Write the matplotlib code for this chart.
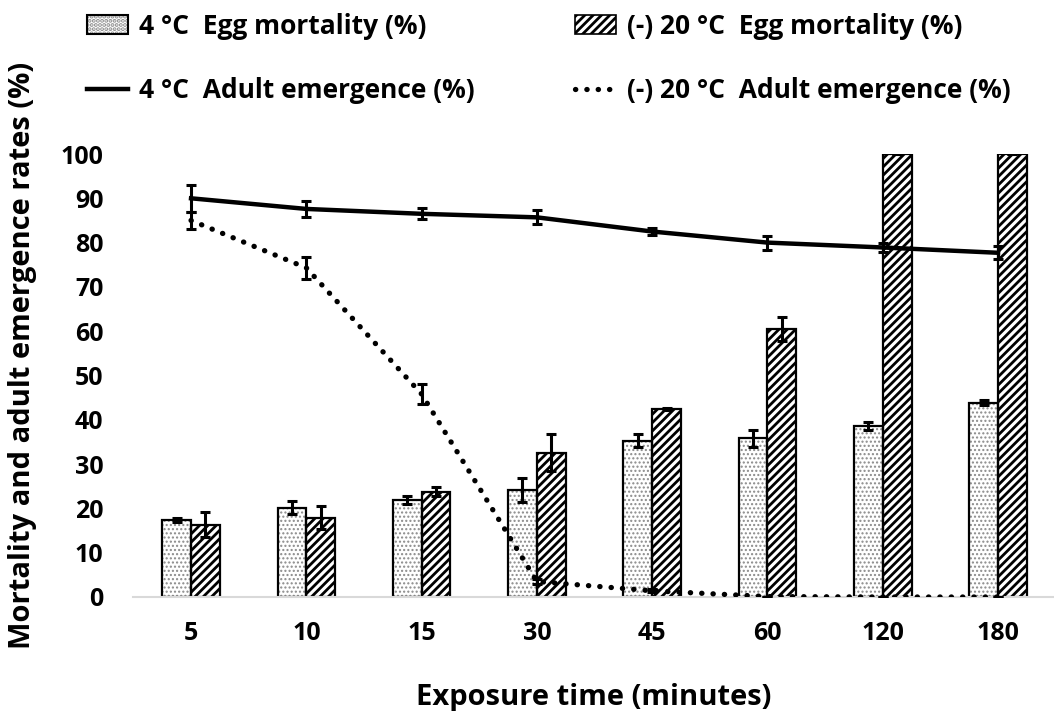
import matplotlib
matplotlib.use("Agg")
import matplotlib.pyplot as plt
import numpy as np
from matplotlib.lines import Line2D
from matplotlib.patches import Patch
from matplotlib.legend_handler import HandlerTuple

plt.rcParams['font.family'] = ['Open Sans', 'DejaVu Sans']

categories = ["5", "10", "15", "30", "45", "60", "120", "180"]

egg_4 = [17.4, 20.2, 22.0, 24.2, 35.3, 35.8, 38.6, 43.9]
egg_4_err = [0.5, 1.5, 0.9, 2.7, 1.4, 1.9, 1.0, 0.5]
egg_20 = [16.3, 17.9, 23.8, 32.6, 42.4, 60.5, 100.0, 100.0]
egg_20_err = [2.8, 2.6, 1.1, 4.1, 0.3, 2.6, 0.0, 0.0]

adult_4 = [90.0, 87.6, 86.5, 85.7, 82.5, 80.0, 78.9, 77.7]
adult_4_err = [3.0, 1.8, 1.2, 1.6, 0.8, 1.6, 1.0, 1.5]
adult_20 = [85.0, 74.3, 45.8, 3.5, 1.4, 0.1, 0.0, 0.0]
adult_20_err = [2.0, 2.5, 2.3, 0.5, 0.3, 0.0, 0.0, 0.0]

labels = ["4 °C  Egg mortality (%)", "(-) 20 °C  Egg mortality (%)",
          "4 °C  Adult emergence (%)", "(-) 20 °C  Adult emergence (%)"]

W, H = 1054, 711
fig = plt.figure(figsize=(W / 100, H / 100), dpi=100)
ax = fig.add_axes([133.4 / W, (H - 597) / H, 922.3 / W, 443 / H])

x = np.arange(len(categories))
bw = 0.25
err_kw = dict(ecolor='black', elinewidth=2.2, capsize=3.5, capthick=2.2)
DOT_HATCH = '....'
DOT_COL = '#8a8a8a'
DOTTED = (0, (0.05, 2.1))

# dotted fill (grey stipple) then black outline on top
plt.rcParams['hatch.linewidth'] = 1.0
ax.bar(x - bw / 2, egg_4, bw, color='white', edgecolor=DOT_COL, linewidth=0,
       hatch=DOT_HATCH, zorder=2)
ax.bar(x - bw / 2, egg_4, bw, color='none', edgecolor='black', linewidth=1.6,
       yerr=egg_4_err, error_kw=err_kw, zorder=2.5)
plt.rcParams['hatch.linewidth'] = 2.0
ax.bar(x + bw / 2, egg_20, bw, color='white', edgecolor='black', linewidth=1.6,
       hatch='////', yerr=egg_20_err, error_kw=err_kw, zorder=2)

ax.errorbar(x, adult_4, yerr=adult_4_err, color='black', lw=3.2,
            ecolor='black', elinewidth=2.2, capsize=3.5, capthick=2.2, zorder=4)
ax.errorbar(x, adult_20, yerr=adult_20_err, color='black', lw=3.8,
            linestyle=DOTTED, dash_capstyle='round',
            ecolor='black', elinewidth=2.2, capsize=3.5, capthick=2.2, zorder=4)

ax.set_xlim(-0.5, len(categories) - 0.5)
ax.set_ylim(0, 100)
ax.set_yticks(np.arange(0, 101, 10))
ax.set_xticks(x)
ax.set_xticklabels(categories)
for s in ['top', 'right', 'left']:
    ax.spines[s].set_visible(False)
ax.spines['bottom'].set_color('#d9d9d9')
ax.spines['bottom'].set_linewidth(1.5)
ax.tick_params(axis='y', length=0, labelsize=18, pad=21.5)
ax.tick_params(axis='x', length=0, labelsize=18, pad=17)
for t in ax.get_xticklabels() + ax.get_yticklabels():
    t.set_fontweight('bold')

fig.text(594 / W, 1 - 697 / H, "Exposure time (minutes)", fontsize=21,
         fontweight='bold', ha='center', va='center')
fig.text(23 / W, 1 - 355 / H, "Mortality and adult emergence rates (%)", rotation=90,
         fontsize=21, fontweight='bold', ha='center', va='center')

h1 = (Patch(facecolor='white', edgecolor='#8a8a8a', hatch='....', linewidth=0),
      Patch(facecolor='none', edgecolor='black', linewidth=1.5))
h2 = Patch(facecolor='white', edgecolor='black', hatch='////', linewidth=1.2)
h3 = Line2D([0], [0], color='black', lw=3.2)
h4 = Line2D([0], [0], color='black', lw=3.8, linestyle=DOTTED, dash_capstyle='round')

leg_kw = dict(loc='upper left', frameon=False, prop={'size': 19, 'weight': 'bold'},
              handlelength=1.55, handleheight=0.75, handletextpad=0.42,
              labelspacing=1.4, borderpad=0, borderaxespad=0,
              handler_map={tuple: HandlerTuple(ndivide=1, pad=0)})
legA = fig.legend([h1, h3], [labels[0], labels[2]],
                  bbox_to_anchor=(87 / W, 1 - 13 / H), **leg_kw)
legB = fig.legend([h2, h4], [labels[1], labels[3]],
                  bbox_to_anchor=(575 / W, 1 - 13 / H), **leg_kw)

fig.savefig("out.png", dpi=100)
